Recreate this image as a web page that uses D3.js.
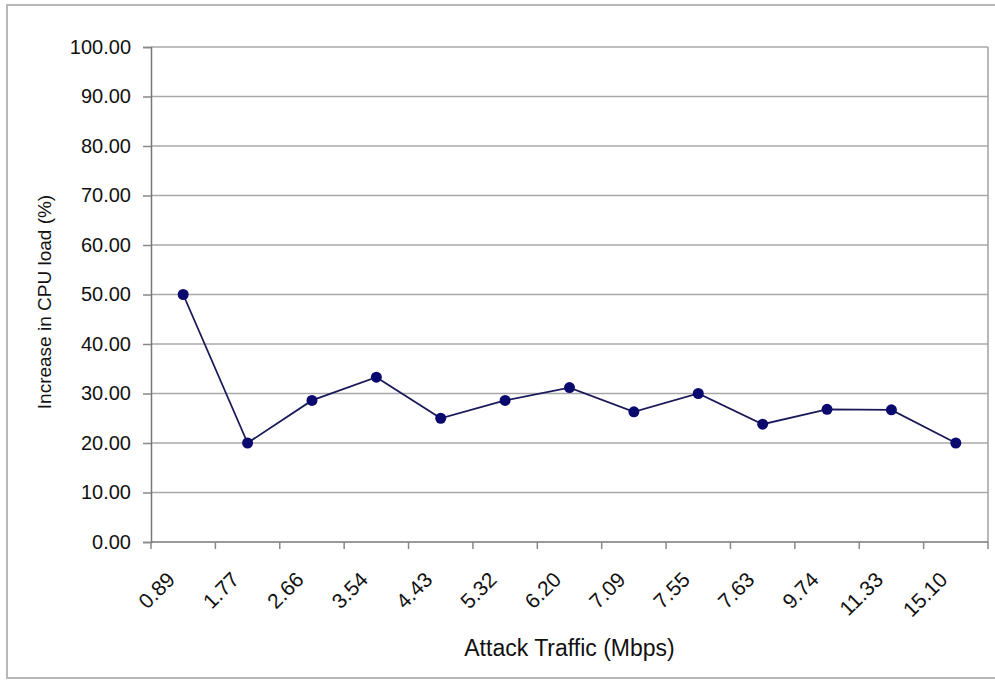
<!DOCTYPE html>
<html>
<head>
<meta charset="utf-8">
<script src="https://cdn.jsdelivr.net/npm/d3@7"></script>
<style>
  html, body { margin: 0; padding: 0; background: #fff; }
  svg { display: block; }
  text { font-family: "Liberation Sans", Arial, sans-serif; fill: #111; }
</style>
</head>
<body>
<svg id="chart" width="995" height="680"></svg>
<script>
const categories = ["0.89","1.77","2.66","3.54","4.43","5.32","6.20","7.09","7.55","7.63","9.74","11.33","15.10"];
const cpuIncrease = [50.0, 20.0, 28.6, 33.3, 25.0, 28.6, 31.2, 26.3, 30.0, 23.8, 26.8, 26.7, 20.0];
const yTicks = [0,10,20,30,40,50,60,70,80,90,100];
const yTitle = "Increase in CPU load (%)";
const xTitle = "Attack Traffic (Mbps)";

const svg = d3.select("#chart");
const plot = {left: 151, right: 988, top: 47, bottom: 542};

// outer frame
svg.append("rect").attr("x", 7).attr("y", 5).attr("width", 1000).attr("height", 673)
  .attr("fill", "none").attr("stroke", "#b8b8b8").attr("stroke-width", 2);

const x = d3.scaleBand().domain(categories).range([plot.left, plot.right]);
const y = d3.scaleLinear().domain([0, 100]).range([plot.bottom, plot.top]);

// gridlines
svg.append("g").selectAll("line").data(yTicks.filter(d => d > 0)).join("line")
  .attr("x1", plot.left).attr("x2", plot.right)
  .attr("y1", d => y(d)).attr("y2", d => y(d))
  .attr("stroke", "#a8a8a8").attr("stroke-width", 1.5);

// right border of plot area
svg.append("line").attr("x1", plot.right).attr("x2", plot.right)
  .attr("y1", plot.top).attr("y2", plot.bottom)
  .attr("stroke", "#a0a0a0").attr("stroke-width", 1.5);

// y axis
const yAxis = svg.append("g").attr("transform", `translate(${plot.left},0)`)
  .call(d3.axisLeft(y).tickValues(yTicks).tickFormat(d3.format(".2f")).tickSize(8).tickPadding(12));
yAxis.select(".domain").attr("stroke", "#777").attr("stroke-width", 1.5);
yAxis.selectAll(".tick line").attr("stroke", "#888").attr("stroke-width", 1.5);
yAxis.selectAll(".tick text").attr("font-size", 20).attr("font-family", "Liberation Sans, Arial, sans-serif").attr("fill", "#111");

// x axis baseline
svg.append("line").attr("x1", plot.left).attr("x2", plot.right)
  .attr("y1", plot.bottom).attr("y2", plot.bottom)
  .attr("stroke", "#777").attr("stroke-width", 1.5);

// x tick marks at band edges
const edges = categories.map(c => x(c)).concat([x.range()[1]]);
svg.append("g").selectAll("line").data(edges).join("line")
  .attr("x1", d => d).attr("x2", d => d)
  .attr("y1", plot.bottom).attr("y2", plot.bottom + 7)
  .attr("stroke", "#888").attr("stroke-width", 1.5);

// x tick labels
svg.append("g").selectAll("text").data(categories).join("text")
  .attr("transform", d => `translate(${x(d) + x.bandwidth()/2 - 7},${plot.bottom + 39}) rotate(-45)`)
  .attr("text-anchor", "end")
  .attr("font-size", 21)
  .text(d => d);

// line
const line = d3.line()
  .x((d, i) => x(categories[i]) + x.bandwidth()/2)
  .y(d => y(d));
svg.append("path").datum(cpuIncrease)
  .attr("d", line).attr("fill", "none")
  .attr("stroke", "#1a1a5a").attr("stroke-width", 1.8);

svg.append("g").selectAll("circle").data(cpuIncrease).join("circle")
  .attr("cx", (d, i) => x(categories[i]) + x.bandwidth()/2)
  .attr("cy", d => y(d))
  .attr("r", 5.5)
  .attr("fill", "#0a0a6e");

// titles
svg.append("text")
  .attr("x", (plot.left + plot.right) / 2).attr("y", 656)
  .attr("text-anchor", "middle").attr("font-size", 23)
  .text(xTitle);

svg.append("text")
  .attr("transform", "translate(51,302) rotate(-90)")
  .attr("text-anchor", "middle").attr("font-size", 19)
  .text(yTitle);
</script>
</body>
</html>
